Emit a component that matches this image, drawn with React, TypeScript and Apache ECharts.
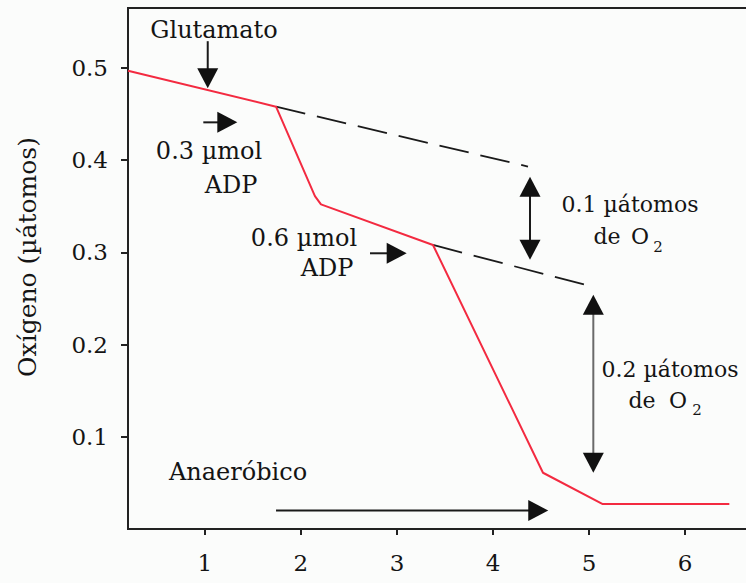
import React, { useEffect, useRef } from "react";
import * as echarts from "echarts";

// Oxygen consumption trace (x: time units, y: µátomos O)
const xTickValues = [1, 2, 3, 4, 5, 6];
const oxygenTrace: [number, number][] = [
  [0.2, 0.497],
  [1.741, 0.458],
  [2.146, 0.361],
  [2.209, 0.352],
  [3.375, 0.308],
  [4.52, 0.061],
  [5.142, 0.027],
  [6.46, 0.027],
];
// Extrapolated resting-state rates (dashed)
const restRate1: [number, number][] = [
  [1.741, 0.458],
  [4.364, 0.393],
];
const restRate2: [number, number][] = [
  [3.375, 0.308],
  [4.989, 0.264],
];
// Annotation arrows: tail, tip, two-headed flag
const arrowFrom: [number, number][] = [
  [1.03, 0.529],
  [0.984, 0.441],
  [2.719, 0.299],
  [4.385, 0.382],
  [5.044, 0.254],
  [1.741, 0.02],
];
const arrowTo: [number, number][] = [
  [1.03, 0.478],
  [1.338, 0.441],
  [3.101, 0.299],
  [4.385, 0.292],
  [5.044, 0.061],
  [4.575, 0.02],
];
const arrowTwoHeaded = [false, false, false, true, true, false];
const arrowShaftGray = [false, false, false, false, true, false];

const FONT = "DejaVu Serif";
const INK = "#141414";

export default function App() {
  const ref = useRef<HTMLDivElement>(null);

  useEffect(() => {
    if (!ref.current) return;
    const chart = echarts.init(ref.current, null, { renderer: "svg" });

    const arrowData = arrowFrom.map((f, i) => [
      f[0],
      f[1],
      arrowTo[i][0],
      arrowTo[i][1],
      arrowTwoHeaded[i] ? 1 : 0,
      arrowShaftGray[i] ? 1 : 0,
    ]);

    const txt = (text: string, x: number, y: number, size: number, extra: any = {}) => ({
      type: "text",
      x,
      y,
      silent: true,
      ...extra,
      style: {
        text,
        fontFamily: FONT,
        fontSize: size,
        fill: INK,
        align: "center",
        verticalAlign: "middle",
        ...(extra.style || {}),
      },
    });

    chart.setOption({
      animation: false,
      backgroundColor: "#fbfcfb",
      grid: {
        left: 128,
        top: 8,
        width: 634,
        height: 521,
        outerBoundsMode: "none",
        containLabel: false,
        show: true,
        borderColor: "#222",
        borderWidth: 2,
        backgroundColor: "transparent",
      },
      xAxis: {
        type: "value",
        min: 0.2,
        max: 6.8,
        splitLine: { show: false },
        axisLine: { lineStyle: { color: "#222", width: 2 } },
        axisTick: {
          customValues: xTickValues,
          length: 6,
          lineStyle: { color: "#222", width: 2 },
        },
        axisLabel: {
          customValues: xTickValues,
          margin: 22,
          fontFamily: FONT,
          fontSize: 23,
          color: INK,
        },
      },
      yAxis: {
        type: "value",
        min: 0,
        max: 0.565,
        interval: 0.1,
        splitLine: { show: false },
        axisLine: { show: true, lineStyle: { color: "#222", width: 2 } },
        axisTick: { show: true, length: 7, lineStyle: { color: "#222", width: 2 } },
        axisLabel: {
          showMinLabel: false,
          showMaxLabel: false,
          margin: 20,
          fontFamily: FONT,
          fontSize: 23,
          color: INK,
        },
      },
      series: [
        {
          type: "line",
          data: restRate1,
          symbol: "none",
          lineStyle: { color: "#1a1a1a", width: 1.8, type: [30, 12] },
          z: 2,
        },
        {
          type: "line",
          data: restRate2,
          symbol: "none",
          lineStyle: { color: "#1a1a1a", width: 1.8, type: [30, 12] },
          z: 2,
        },
        {
          type: "line",
          data: oxygenTrace,
          symbol: "none",
          lineStyle: { color: "#f32a40", width: 2 },
          z: 3,
        },
        {
          type: "custom",
          data: arrowData,
          encode: { x: [0, 2], y: [1, 3] },
          clip: false,
          z: 4,
          renderItem: (params: any, api: any) => {
            const a = api.coord([api.value(0), api.value(1)]);
            const b = api.coord([api.value(2), api.value(3)]);
            const both = api.value(4) === 1;
            const gray = api.value(5) === 1;
            const dx = b[0] - a[0];
            const dy = b[1] - a[1];
            const len = Math.hypot(dx, dy) || 1;
            const ux = dx / len;
            const uy = dy / len;
            const nx = -uy;
            const ny = ux;
            const L = 20;
            const W = 10.5;
            const head = (tip: number[], sx: number, sy: number) => ({
              type: "polygon",
              shape: {
                points: [
                  [tip[0], tip[1]],
                  [tip[0] - sx * L + nx * W, tip[1] - sy * L + ny * W],
                  [tip[0] - sx * L - nx * W, tip[1] - sy * L - ny * W],
                ],
              },
              style: { fill: "#111" },
            });
            const children: any[] = [
              {
                type: "line",
                shape: {
                  x1: a[0] + (both ? ux * L * 0.7 : 0),
                  y1: a[1] + (both ? uy * L * 0.7 : 0),
                  x2: b[0] - ux * L * 0.7,
                  y2: b[1] - uy * L * 0.7,
                },
                style: { stroke: gray ? "#6a6a6a" : "#1a1a1a", lineWidth: 2 },
              },
              head(b, ux, uy),
            ];
            if (both) children.push(head(a, -ux, -uy));
            return { type: "group", children };
          },
        },
      ],
      graphic: [
        txt("Oxígeno (µátomos)", 27, 257, 25, { rotation: Math.PI / 2 }),
        txt("Glutamato", 214, 30, 24),
        txt("0.3 µmol", 209, 151, 24),
        txt("ADP", 231, 185, 24),
        txt("0.6 µmol", 304, 238, 24),
        txt("ADP", 327, 268, 24),
        txt("0.1 µátomos", 630, 204, 22),
        txt("de", 607, 236, 22),
        txt("O", 640, 236, 22),
        txt("2", 658, 247, 15),
        txt("0.2 µátomos", 670, 369, 22),
        txt("de", 642, 400, 22),
        txt("O", 678, 400, 22),
        txt("2", 697, 410, 15),
        txt("Anaeróbico", 238, 472, 24),
      ],
    });

    return () => chart.dispose();
  }, []);

  return (
    <div
      ref={ref}
      style={{ position: "fixed", left: 0, top: 0, width: 746, height: 583 }}
    />
  );
}
